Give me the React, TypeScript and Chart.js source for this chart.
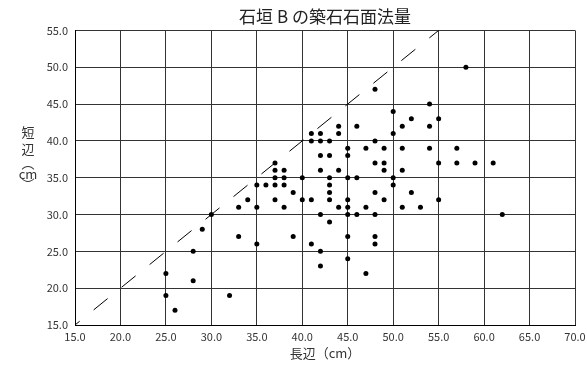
import { useEffect, useRef } from 'react';
import { Chart, registerables } from 'chart.js';
Chart.register(...registerables);

// 長辺 (x) and 短辺 (y) of each stone, cm
const longSide = [
  25, 25, 26, 28, 28, 29, 30, 32, 33, 33, 34,
  35, 35, 35, 36, 37, 37, 37, 37, 37, 38, 38, 38, 38, 39, 39, 40, 40,
  41, 41, 41, 41, 42, 42, 42, 42, 42, 42, 42,
  43, 43, 43, 43, 43, 43, 43,
  44, 44, 44, 44,
  45, 45, 45, 45, 45, 45, 45, 45,
  46, 46, 46,
  47, 47, 47,
  48, 48, 48, 48, 48, 48, 48,
  49, 49, 49, 49,
  50, 50, 50, 50,
  51, 51, 51, 51,
  52, 52,
  53,
  54, 54, 54,
  55, 55, 55,
  57, 57, 58, 59, 61, 62,
];
const shortSide = [
  22, 19, 17, 25, 21, 28, 30, 19, 31, 27, 32,
  34, 31, 26, 34, 37, 36, 35, 34, 32, 36, 35, 34, 31, 33, 27, 35, 32,
  41, 40, 32, 26, 41, 40, 38, 36, 30, 25, 23,
  40, 38, 35, 34, 33, 32, 29,
  42, 41, 36, 31,
  39, 38, 35, 32, 31, 30, 27, 24,
  42, 35, 30,
  39, 31, 22,
  47, 40, 37, 33, 30, 27, 26,
  39, 37, 36, 32,
  44, 41, 35, 34,
  42, 39, 36, 31,
  43, 33,
  31,
  45, 42, 39,
  43, 37, 32,
  39, 37, 50, 37, 37, 30,
];
// reference line 短辺 = 長辺
const refLineX = [15, 55];
const refLineY = [15, 55];

const titleText = '石垣 B の築石石面法量';
const xTitle = '長辺（cm）';
const yTitleLines = ['短', '辺', '︵', 'cm', '︶'];

const FONT = "'Noto Sans CJK JP', 'Noto Sans', sans-serif";

const yTitlePlugin = {
  id: 'yTitleVertical',
  afterDraw(chart: any) {
    const ctx = chart.ctx;
    ctx.save();
    ctx.fillStyle = '#333';
    ctx.textAlign = 'center';
    ctx.textBaseline = 'middle';
    ctx.font = `13px ${FONT}`;
    const ys = [132, 149, 163, 174, 184];
    yTitleLines.forEach((t, i) => ctx.fillText(t, 28, ys[i]));
    ctx.restore();
  },
};

export default function App() {
  const ref = useRef<HTMLCanvasElement>(null);
  useEffect(() => {
    if (!ref.current) return;
    const chart = new Chart(ref.current, {
      type: 'scatter',
      data: {
        datasets: [
          {
            type: 'line',
            data: refLineX.map((x, i) => ({ x, y: refLineY[i] })),
            borderColor: '#000',
            borderWidth: 1,
            borderDash: [18, 18],
            borderDashOffset: 12,
            pointRadius: 0,
            fill: false,
          } as any,
          {
            data: longSide.map((x, i) => ({ x, y: shortSide[i] })),
            backgroundColor: '#000',
            borderColor: '#000',
            pointRadius: 2.5,
            borderWidth: 0,
          },
        ],
      },
      options: {
        animation: false,
        responsive: true,
        maintainAspectRatio: false,
        layout: { padding: { left: 0, right: 0, top: 0, bottom: 4 } },
        plugins: {
          legend: { display: false },
          tooltip: { enabled: false },
          title: {
            display: true,
            fullSize: false,
            text: titleText,
            color: '#222',
            font: { family: FONT, size: 17, weight: 'normal' },
            padding: { top: 6, bottom: 4 },
          },
        },
        scales: {
          x: {
            type: 'linear',
            min: 15,
            max: 70,
            ticks: {
              stepSize: 5,
              color: '#333',
              padding: 5,
              font: { family: FONT, size: 11 },
              callback: (v: any) => Number(v).toFixed(1),
              maxRotation: 0,
            },
            grid: { color: '#333', lineWidth: 1, drawTicks: false },
            border: { color: '#000', width: 1 },
            title: {
              display: true,
              text: xTitle,
              color: '#333',
              font: { family: FONT, size: 13 },
              padding: { top: 0, bottom: 0 },
            },
            afterFit: (s: any) => {
              s.height = 36;
              s.paddingRight = 12;
            },
          },
          y: {
            type: 'linear',
            min: 15,
            max: 55,
            ticks: {
              stepSize: 5,
              color: '#333',
              padding: 7,
              font: { family: FONT, size: 11 },
              callback: (v: any) => Number(v).toFixed(1),
            },
            grid: { color: '#333', lineWidth: 1, drawTicks: false },
            border: { color: '#000', width: 1 },
            afterFit: (s: any) => {
              s.width = 75;
            },
          },
        },
      },
      plugins: [yTitlePlugin],
    });
    return () => chart.destroy();
  }, []);
  return (
    <div style={{ position: 'fixed', left: 0, top: 0, width: 587, height: 365, background: '#fff' }}>
      <canvas ref={ref} />
    </div>
  );
}
